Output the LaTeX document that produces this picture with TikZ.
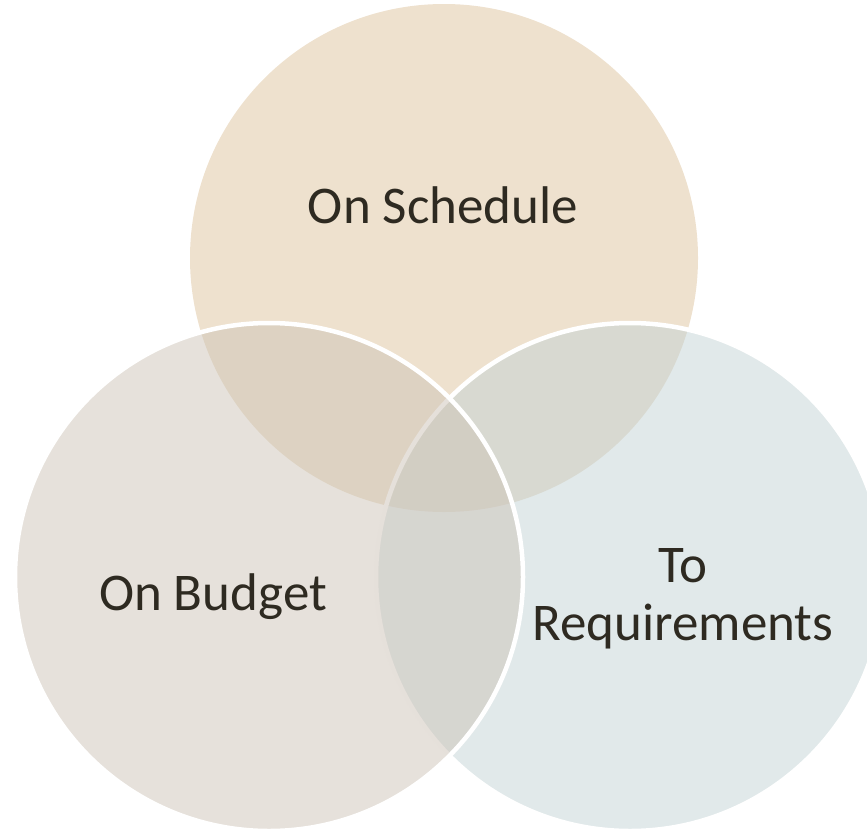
\documentclass[tikz,border=0pt]{standalone}
\usepackage{fontspec}
\setmainfont{Carlito}
\definecolor{topc}{RGB}{221,195,157}
\definecolor{leftc}{RGB}{205,195,183}
\definecolor{rightc}{RGB}{195,211,213}
\definecolor{txtc}{RGB}{46,42,33}
\begin{document}
\begin{tikzpicture}[x=1pt,y=-1pt]
\tikzset{
  venn/.style={fill opacity=0.5, draw=white, draw opacity=1, line width=4.5pt},
  lbl/.style={text=txtc, font=\fontsize{53}{58}\selectfont, inner sep=0pt, align=center}
}
\useasboundingbox (0,0) rectangle (867,830);
\clip (0,0) rectangle (867,830);
\fill[topc, fill opacity=0.5] (444,258) circle[radius=254pt];
\path[venn, fill=rightc] (630,577) circle[radius=254pt];
\path[venn, fill=leftc] (269,577) circle[radius=254pt];
\node[lbl, anchor=base] (sched) at (443,223) {On Schedule};
\node[lbl, anchor=base] (budget) at (213,610) {On Budget};
\node[lbl, anchor=base] (reqto) at (683,582) {To};
\node[lbl, anchor=base] (req) at (683,640) {Requirements};
\end{tikzpicture}
\end{document}
